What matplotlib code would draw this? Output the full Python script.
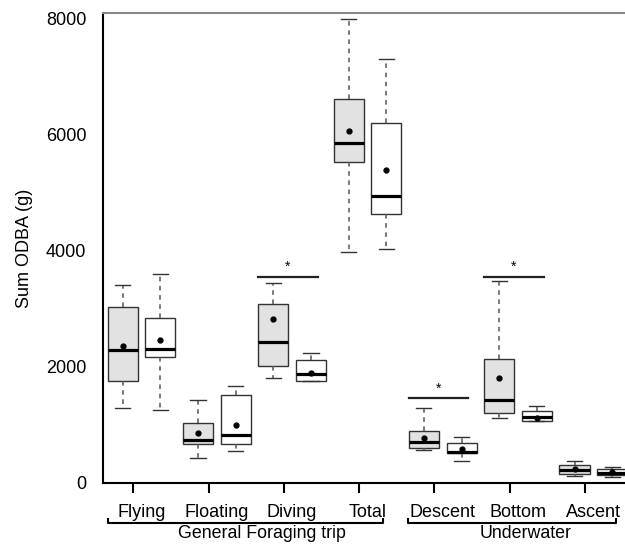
import numpy as np
import matplotlib
matplotlib.use("Agg")
import matplotlib.pyplot as plt
import matplotlib.transforms as mtransforms

plt.rcParams['font.family'] = ['Liberation Sans', 'DejaVu Sans']

categories = ["Flying", "Floating", "Diving", "Total", "Descent", "Bottom", "Ascent"]
groups = ["General Foraging trip", "Underwater"]

# grey boxes (first group of each pair)
whislo_a = [1290, 430, 1815, 3990, 570, 1125, 120]
q1_a = [1760, 680, 2020, 5530, 600, 1200, 155]
med_a = [2290, 740, 2435, 5870, 700, 1425, 225]
q3_a = [3040, 1040, 3090, 6620, 890, 2130, 305]
whishi_a = [3410, 1430, 3450, 8000, 1290, 3480, 385]
mean_a = [2370, 855, 2820, 6070, 780, 1810, 240]

# white boxes (second of each pair)
whislo_b = [1255, 550, 1760, 4030, 375, 1065, 110]
q1_b = [2170, 680, 1765, 4630, 515, 1075, 145]
med_b = [2315, 835, 1875, 4940, 540, 1145, 170]
q3_b = [2840, 1510, 2115, 6210, 685, 1235, 235]
whishi_b = [3610, 1670, 2235, 7310, 800, 1320, 280]
mean_b = [2465, 1005, 1895, 5400, 585, 1120, 195]

# significance bars
sig_idx = [2, 4, 5]
sig_y = [3560, 1460, 3560]


def make_stats(lo, q1, med, q3, hi, mean):
    return [dict(whislo=a, q1=b, med=c, q3=d, whishi=e, mean=f, fliers=[])
            for a, b, c, d, e, f in zip(lo, q1, med, q3, hi, mean)]


fig = plt.figure(figsize=(6.25, 5.45), dpi=100)
ax = fig.add_axes([0.165, 0.1138, 0.835, 0.862])

x = np.arange(len(categories))
common = dict(
    widths=0.4, patch_artist=True, showmeans=True, showfliers=False,
    medianprops=dict(color="black", linewidth=2.3),
    whiskerprops=dict(color="#555555", linewidth=1.1, linestyle=(0, (3, 3))),
    capprops=dict(color="#333333", linewidth=1.0),
    meanprops=dict(marker="o", markerfacecolor="black", markeredgecolor="black", markersize=3.5),
    manage_ticks=False,
)
ba = ax.bxp(make_stats(whislo_a, q1_a, med_a, q3_a, whishi_a, mean_a), positions=x - 0.14,
            boxprops=dict(facecolor="#e2e2e2", edgecolor="#333333", linewidth=1.0), **common)
bb = ax.bxp(make_stats(whislo_b, q1_b, med_b, q3_b, whishi_b, mean_b), positions=x + 0.36,
            boxprops=dict(facecolor="white", edgecolor="#333333", linewidth=1.0), **common)
for cap in ba["caps"] + bb["caps"]:
    xd = cap.get_xdata()
    c = (xd[0] + xd[1]) / 2
    cap.set_xdata([c - 0.1, c + 0.1])

for i, yv in zip(sig_idx, sig_y):
    ax.plot([i - 0.34, i + 0.45], [yv, yv], color="#222222", linewidth=1.6)
    ax.text(i + 0.05, yv + 40, "*", ha="center", va="bottom", fontsize=10)

ax.set_xlim(-0.4, 6.53)
ax.set_ylim(0, 8100)
ax.set_yticks([0, 2000, 4000, 6000, 8000])
ax.set_xticks(x)
ax.set_xticklabels(categories)
ax.tick_params(axis="both", labelsize=13, width=1.5, length=7, color="black")
ax.tick_params(axis="x", pad=8)
ax.tick_params(axis="y", pad=5)
for t in ax.yaxis.get_major_ticks():
    if t.get_loc() in (0, 8000):
        t.tick1line.set_visible(False)
offset = mtransforms.ScaledTranslation(8 / 100, 0, fig.dpi_scale_trans)
for lab in ax.get_xticklabels():
    lab.set_transform(lab.get_transform() + offset)

ax.set_ylabel("Sum ODBA (g)", fontsize=13, labelpad=9)
ax.spines["right"].set_visible(False)
ax.spines["top"].set_color("#888888")
ax.spines["top"].set_linewidth(1.5)
ax.spines["left"].set_linewidth(1.5)
ax.spines["bottom"].set_linewidth(1.5)

# group brackets below axis
trans = mtransforms.blended_transform_factory(ax.transData, ax.transAxes)
brackets = [(-0.33, 3.32, 1.71), (3.65, 6.41, 5.21)]
for (x0, x1, xc), name in zip(brackets, groups):
    ax.plot([x0, x0, x1, x1], [-0.076, -0.085, -0.085, -0.076], color="black",
            linewidth=1.5, transform=trans, clip_on=False)
    ax.text(xc, -0.108, name, ha="center", va="center", fontsize=12.8, transform=trans)

fig.savefig("out.png", dpi=100)
